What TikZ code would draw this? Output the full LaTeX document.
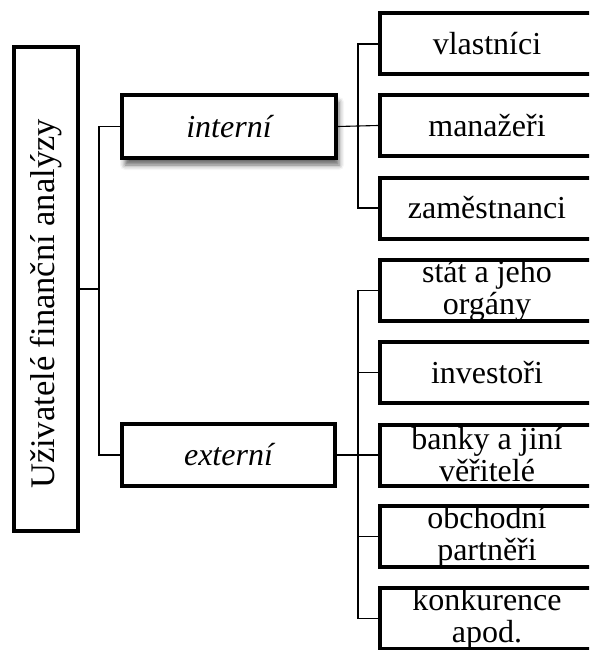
\documentclass[tikz,border=0pt]{standalone}
\usepackage{fontspec}
\setmainfont{Liberation Serif}
\usetikzlibrary{shadows.blur}
\begin{document}
\begin{tikzpicture}[x=1pt,y=-1pt,
  box/.style={draw=black,line width=4pt,fill=white,inner sep=0pt,
    minimum width=214pt,minimum height=61pt,align=center,
    font=\fontsize{32}{32}\selectfont},
  rbox/.style={box,minimum width=238pt},
  rtext/.style={inner sep=0pt,align=center,font=\fontsize{32}{32}\selectfont},
  conn/.style={draw=black,line width=1.1pt}]
\useasboundingbox (0,0) rectangle (589,650);
\clip (0,0) rectangle (589,650);
% left tall box
\node[draw=black,line width=3.5pt,fill=white,inner sep=0pt,
  minimum width=64pt,minimum height=484pt] (U) at (46,289) {};
\node[rotate=90,font=\fontsize{34.5}{34.5}\selectfont] (Ut) at (46,304) {Uživatelé finanční analýzy};
% middle boxes
\node[box,minimum height=63pt,
  blur shadow={shadow xshift=3pt,shadow yshift=-7pt,shadow blur radius=5pt,shadow opacity=60}]
  (int) at (229,126.5) {\itshape interní};
\node[box,minimum width=213pt,minimum height=62pt,line width=3.5pt] (ext) at (228.5,455) {\itshape externí};
% right boxes (extend past the right edge)
\node[rbox] (vl)  at (499,44)    {};
\node[rbox] (man) at (499,125.5) {};
\node[rbox] (zam) at (499,208)   {};
\node[rbox] (st)  at (499,290.5) {};
\node[rbox] (inv) at (499,372.5) {};
\node[rbox] (ban) at (499,455)   {};
\node[rbox] (obc) at (499,536.5) {};
\node[rbox] (kon) at (499,618.5) {};
\node[rtext] (tvl)  at (487,44)    {vlastníci};
\node[rtext] (tman) at (487,125.5) {manažeři};
\node[rtext] (tzam) at (487,208)   {zaměstnanci};
\node[rtext] (tst)  at (487,290.5) {stát a jeho\\orgány};
\node[rtext] (tinv) at (487,372.5) {investoři};
\node[rtext] (tban) at (487,455)   {banky a jiní\\věřitelé};
\node[rtext] (tobc) at (487,536.5) {obchodní\\partněři};
\node[rtext] (tkon) at (487,618.5) {konkurence\\apod.};
% connectors left
\coordinate (j1) at (99,289);
\draw[conn] (U.east) -- (j1);
\draw[conn] (int.west) -| (j1) |- (ext.west);
% connectors interni
\draw[conn] (vl.west) -- ++(-20,0) |- (zam.west);
\draw[conn] (int.east) -- (man.west);
% connectors externi
\draw[conn] (st.west) -- ++(-20,0) |- (kon.west);
\draw[conn] (ext.east) -- (ban.west);
\draw[conn] (inv.west) -- ++(-20,0);
\draw[conn] (obc.west) -- ++(-20,0);
\end{tikzpicture}
\end{document}
